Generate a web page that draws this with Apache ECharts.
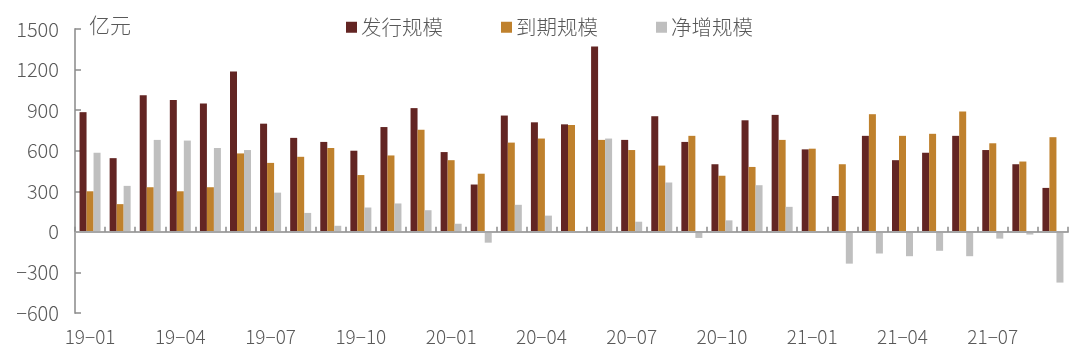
<!DOCTYPE html>
<html>
<head>
<meta charset="utf-8">
<style>html,body{margin:0;padding:0;background:#fff}#main{width:1080px;height:351px}</style>
<script src="https://cdn.jsdelivr.net/npm/echarts@6/dist/echarts.min.js"></script>
</head>
<body>
<div id="main"></div>
<script>
var months = ['19-01','19-02','19-03','19-04','19-05','19-06','19-07','19-08','19-09','19-10','19-11','19-12',
  '20-01','20-02','20-03','20-04','20-05','20-06','20-07','20-08','20-09','20-10','20-11','20-12',
  '21-01','21-02','21-03','21-04','21-05','21-06','21-07','21-08','21-09'];
var issued = [885,545,1010,975,950,1185,800,695,665,600,775,915,590,350,860,810,795,1370,680,855,665,500,825,865,610,265,710,530,585,710,605,500,325];
var matured = [300,205,330,300,330,580,510,555,620,420,565,755,530,430,660,690,790,680,605,490,710,415,480,680,615,500,870,710,725,890,655,520,700];
var netAdded = [585,340,680,675,620,605,290,140,45,180,210,160,60,-80,200,120,5,690,75,365,-45,85,345,185,-5,-235,-160,-180,-140,-180,-50,-20,-375];

var font = '"Noto Sans CJK SC"';
var textColor = '#595959';
var axisColor = '#a6a6a6';
var tickColor = '#8c8c8c';

var myChart = echarts.init(document.getElementById('main'), null, {renderer: 'canvas'});

function barSeries(name, data, color) {
  return {
    name: name,
    type: 'bar',
    data: data,
    barWidth: 7,
    barGap: 0,
    itemStyle: {color: color}
  };
}

var option = {
  animation: false,
  textStyle: {fontFamily: font},
  grid: {left: 75, right: 12, top: 29, height: 284, outerBoundsMode: 'none'},
  legend: {
    left: 341,
    top: 12,
    itemWidth: 11,
    itemHeight: 11,
    itemGap: 58,
    icon: 'rect',
    textStyle: {fontSize: 20.5, color: textColor, fontFamily: font, fontWeight: 300, padding: [0, 0, 0, -1]},
    data: ['发行规模', '到期规模', '净增规模']
  },
  xAxis: {
    type: 'category',
    data: months,
    z: 5,
    axisLine: {onZero: true, lineStyle: {color: axisColor, width: 2}},
    axisTick: {show: true, inside: true, length: 5, alignWithLabel: false, interval: 0, lineStyle: {color: tickColor, width: 1.5}},
    axisLabel: {
      interval: 2,
      margin: 14,
      fontSize: 19,
      color: textColor,
      fontFamily: font,
      fontWeight: 300,
      formatter: function (v) { return v.replace('-', '\u2212'); }
    }
  },
  yAxis: {
    type: 'value',
    min: -600,
    max: 1500,
    interval: 300,
    name: '亿元',
    nameLocation: 'end',
    nameGap: -7,
    nameTextStyle: {fontSize: 21, color: textColor, fontFamily: font, fontWeight: 300, align: 'left', padding: [0, 0, 0, 14]},
    splitLine: {show: false},
    axisLine: {show: true, lineStyle: {color: axisColor, width: 2}},
    axisTick: {show: true, inside: true, length: 6, lineStyle: {color: tickColor, width: 1.5}},
    axisLabel: {
      margin: 16,
      fontSize: 20,
      color: textColor,
      fontFamily: font,
      fontWeight: 300,
      formatter: function (v) { return String(v).replace('-', '\u2212'); }
    }
  },
  series: [
    barSeries('发行规模', issued, '#632523'),
    barSeries('到期规模', matured, '#bf812d'),
    barSeries('净增规模', netAdded, '#bfbfbf')
  ]
};
option && myChart.setOption(option);
</script>
</body>
</html>
